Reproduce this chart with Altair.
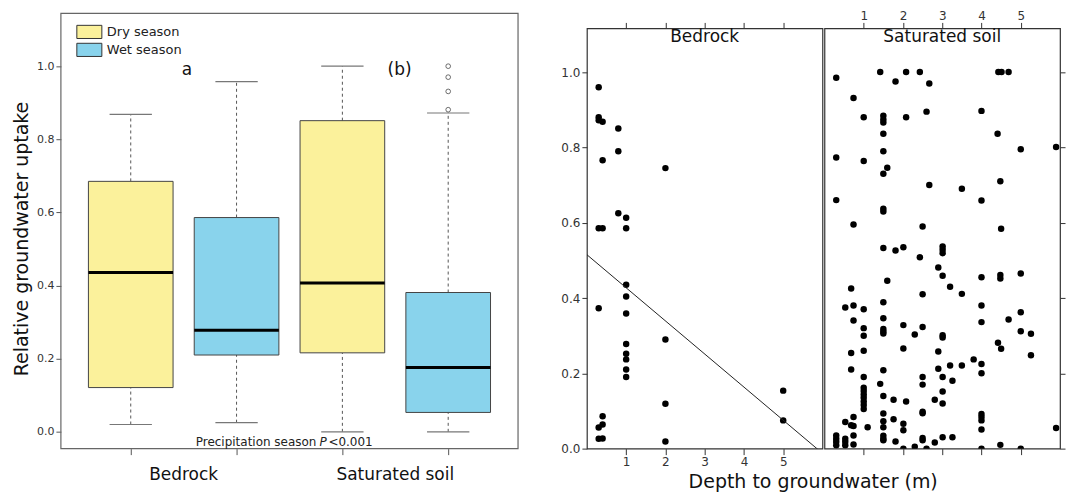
import altair as alt
import pandas as pd

# ---------------- Left panel: boxplots ----------------
box_group = ["Bedrock", "Bedrock", "Saturated soil", "Saturated soil"]
box_season = ["Dry season", "Wet season", "Dry season", "Wet season"]
box_pos = [1, 2, 3, 4]
whisk_lo = [0.020, 0.025, 0.0, 0.0]
q1 = [0.121, 0.210, 0.216, 0.053]
median = [0.436, 0.278, 0.407, 0.176]
q3 = [0.685, 0.586, 0.851, 0.381]
whisk_hi = [0.868, 0.958, 1.0, 0.872]

outlier_pos = [4, 4, 4, 4]
outlier_val = [1.0, 0.970, 0.931, 0.881]

group_label_pos = [1.5, 3.5]
group_labels = ["Bedrock", "Saturated soil"]

letter_pos = [1.53, 3.54]
letter_val = [0.99, 0.99]
letters = ["a", "(b)"]

# ---------------- Right panels: scatter ----------------
bed_x = [0.3, 0.3, 0.3, 0.4, 0.4, 0.8, 0.8, 2.0, 0.8, 1.0, 0.3, 0.4, 1.0,
         1.0, 1.0, 0.3, 1.0, 1.0, 2.0, 1.0, 1.0, 1.0, 1.0, 5.0, 5.0, 2.0,
         2.0, 0.4, 0.3, 0.4, 0.3, 0.4]
bed_y = [0.96, 0.88, 0.872, 0.868, 0.766, 0.85, 0.79, 0.745, 0.625, 0.613,
         0.585, 0.585, 0.585, 0.435, 0.404, 0.373, 0.359, 0.278, 0.29, 0.252,
         0.237, 0.21, 0.19, 0.154, 0.075, 0.119, 0.019, 0.086, 0.056, 0.064,
         0.026, 0.027]

sat_x = [0.3, 0.3, 0.3, 0.3, 0.3, 0.3, 0.3,
         1.42, 2.08, 2.08, 2.43, 2.43, 4.43, 4.51, 4.69, 1.81, 2.67, 2.67,
         0.74, 0.74, 0.74, 0.74, 0.74, 0.74, 0.74,
         1.0, 1.0, 1.0, 1.0, 1.0, 1.0, 1.0, 1.0, 1.0, 1.0, 1.0, 1.0, 1.0, 1.0,
         1.5, 1.5, 1.5, 1.5, 1.5, 1.5, 1.5, 1.5, 1.5, 1.5, 1.5, 1.5, 1.5,
         1.5, 1.5, 1.5, 1.5, 1.5, 1.5, 1.5, 1.5, 1.5,
         2.6, 2.6,
         4.0, 4.0, 4.0, 4.0, 4.0, 4.0, 4.0, 4.0, 4.0, 4.0, 4.0, 4.0,
         4.41, 5.0, 5.0, 5.0, 5.0, 5.0, 5.9, 5.9, 1.6, 1.6,
         3.5, 3.5, 3.5, 4.48, 4.48, 4.48, 4.48,
         2.5, 2.5, 2.5, 2.5, 2.5, 2.5, 2.5, 2.5, 2.5,
         4.5, 4.5, 4.42, 1.81, 1.81,
         2.01, 2.01, 2.01, 2.01, 2.01, 2.01,
         3.01, 3.01, 3.01, 3.01, 3.01, 3.01, 3.01, 3.01, 3.01, 3.01,
         2.9, 2.9, 2.9, 3.2, 3.2, 0.68, 0.68, 0.68,
         0.53, 0.53, 0.53, 0.53, 0.53, 2.3, 2.3, 4.69, 5.26, 5.26,
         1.42, 1.76, 1.76, 2.08, 2.81, 2.81, 3.26, 3.26, 3.8, 1.1, 0.68, 0.74]
sat_y = [0.985, 0.773, 0.660, 0.035, 0.026, 0.018, 0.009,
         1.0, 1.0, 0.88, 1.0, 0.508, 1.0, 1.0, 1.0, 0.975, 0.970, 0.700,
         0.931, 0.595, 0.38, 0.34, 0.084, 0.035, 0.011,
         0.880, 0.764, 0.370, 0.320, 0.300, 0.26, 0.190, 0.162, 0.153, 0.144,
         0.135, 0.125, 0.116, 0.105,
         0.884, 0.874, 0.866, 0.836, 0.79, 0.73, 0.637, 0.630, 0.533, 0.389,
         0.346, 0.318, 0.311, 0.306, 0.208, 0.140, 0.093, 0.073, 0.057, 0.034,
         0.026, 0.022,
         0.895, 0.0,
         0.897, 0.659, 0.455, 0.38, 0.336, 0.225, 0.2, 0.092, 0.084, 0.075,
         0.051, 0.0,
         0.836, 0.795, 0.465, 0.362, 0.312, 0.0, 0.801, 0.055, 0.746, 0.446,
         0.690, 0.411, 0.221, 0.710, 0.461, 0.452, 0.01,
         0.590, 0.41, 0.323, 0.190, 0.170, 0.098, 0.094, 0.028, 0.022,
         0.584, 0.265, 0.281, 0.526, 0.019,
         0.535, 0.328, 0.266, 0.066, 0.049, 0.0,
         0.537, 0.528, 0.519, 0.459, 0.301, 0.295, 0.19, 0.152, 0.12, 0.03,
         0.481, 0.258, 0.212, 0.430, 0.221, 0.425, 0.254, 0.210,
         0.375, 0.071, 0.026, 0.018, 0.009, 0.303, 0.005, 0.343, 0.305, 0.248,
         0.172, 0.130, 0.078, 0.125, 0.13, 0.016, 0.18, 0.03, 0.237, 0.057,
         0.062, 0.060]

fit_intercept = 0.515
fit_slope = -0.0879
fit_x = [0.0, 6.0]

panel_names = ["Bedrock", "Saturated soil"]

FONT = "DejaVu Sans"
DRY = "#FBF19B"
WET = "#89D3EC"

PLOT_H = 421          # shared plot-area height of all panels
LEFT_W = 458
FRAME_EXTRA = 15      # left frame reaches this far above the shared plot top

# ---------------- build left chart ----------------
bx = pd.DataFrame({
    "group": box_group, "season": box_season, "pos": box_pos,
    "lo": whisk_lo, "q1": q1, "med": median, "q3": q3, "hi": whisk_hi,
})
bx["x0"] = bx["pos"] - 0.4
bx["x1"] = bx["pos"] + 0.4
bx["c0"] = bx["pos"] - 0.2
bx["c1"] = bx["pos"] + 0.2

xs = alt.Scale(domain=[0.34, 4.66], nice=False, zero=False)
ys = alt.Scale(domain=[-0.046, 1.1033], nice=False, zero=False)

x_axis = alt.Axis(values=box_pos, labels=False, title=None, domain=False,
                  grid=False, tickSize=6, tickColor="#555")
y_axis = alt.Axis(values=[0, 0.2, 0.4, 0.6, 0.8, 1.0], format=".1f",
                  title="Relative groundwater uptake", titleFontSize=19,
                  titleFontWeight="normal", titleColor="#111", titlePadding=5,
                  labelFontSize=11, labelColor="#333", tickSize=5,
                  tickColor="#555", domain=False, grid=False, labelPadding=2)

base = alt.Chart(bx)

whisk_up = base.mark_rule(strokeDash=[3, 3], color="#555", strokeWidth=1).encode(
    x=alt.X("pos:Q", scale=xs, axis=x_axis),
    y=alt.Y("q3:Q", scale=ys, axis=y_axis), y2="hi:Q")
whisk_dn = base.mark_rule(strokeDash=[3, 3], color="#555", strokeWidth=1).encode(
    x="pos:Q", y="lo:Q", y2="q1:Q")
cap_up = base.mark_rule(color="#777", strokeWidth=1.2).encode(
    x="c0:Q", x2="c1:Q", y="hi:Q")
cap_dn = base.mark_rule(color="#777", strokeWidth=1.2).encode(
    x="c0:Q", x2="c1:Q", y="lo:Q")

legend_path = "M-1.9,-1H1.9V1H-1.9Z"
boxes = base.mark_bar(stroke="#444", strokeWidth=1, opacity=1).encode(
    x="x0:Q", x2="x1:Q", y="q1:Q", y2="q3:Q",
    color=alt.Color("season:N",
                    scale=alt.Scale(domain=["Dry season", "Wet season"],
                                    range=[DRY, WET]),
                    legend=alt.Legend(title=None, orient="none", legendX=21,
                                      legendY=-4, symbolType=legend_path,
                                      symbolSize=174, symbolStrokeColor="#333",
                                      symbolStrokeWidth=1, symbolOpacity=1,
                                      labelFontSize=13, labelColor="#222",
                                      rowPadding=-1, labelOffset=10, padding=0)))
meds = base.mark_rule(color="black", strokeWidth=3).encode(
    x="x0:Q", x2="x1:Q", y="med:Q")

outl = alt.Chart(pd.DataFrame({"pos": outlier_pos, "val": outlier_val})).mark_point(
    shape="circle", filled=False, size=22, color="black", strokeWidth=0.8
).encode(x="pos:Q", y="val:Q")

letters_t = alt.Chart(pd.DataFrame({"x": letter_pos, "y": letter_val, "t": letters})).mark_text(
    fontSize=17, color="#111", align="center", baseline="middle"
).encode(x="x:Q", y="y:Q", text="t:N")

grp_t = alt.Chart(pd.DataFrame({"x": group_label_pos, "t": group_labels})).mark_text(
    fontSize=17, color="#111", align="center", baseline="middle"
).encode(x="x:Q", y=alt.value(PLOT_H + 26), text="t:N")

pdf = pd.DataFrame({"x": [2.755, 2.783, 2.868], "y": [-0.027] * 3,
                    "t": ["Precipitation season", "P", "<0.001"]})
p1 = alt.Chart(pdf.iloc[[0]]).mark_text(fontSize=12, color="#222", align="right",
                                        baseline="middle").encode(x="x:Q", y="y:Q", text="t:N")
p2 = alt.Chart(pdf.iloc[[1]]).mark_text(fontSize=12, color="#222", align="left",
                                        baseline="middle", fontStyle="italic").encode(x="x:Q", y="y:Q", text="t:N")
p3 = alt.Chart(pdf.iloc[[2]]).mark_text(fontSize=12, color="#222", align="left",
                                        baseline="middle").encode(x="x:Q", y="y:Q", text="t:N")

# panel border (taller than the shared plot area, as in the original figure)
frame = alt.Chart(pd.DataFrame({"k": [0]})).mark_rect(
    fillOpacity=0, stroke="#666", strokeWidth=1.2).encode(
    x=alt.value(0), x2=alt.value(LEFT_W),
    y=alt.value(-FRAME_EXTRA), y2=alt.value(PLOT_H))

left = alt.layer(frame, whisk_up, whisk_dn, cap_up, cap_dn, boxes, meds, outl,
                 letters_t, grp_t, p1, p2, p3).properties(
    width=LEFT_W, height=PLOT_H,
    view=alt.ViewBackground(stroke=None, strokeWidth=0))

# ---------------- build right panels ----------------
rxs = alt.Scale(domain=[0, 6], nice=False, zero=False)
rys = alt.Scale(domain=[0, 1.116], nice=False, zero=False)
yticks = [0, 0.2, 0.4, 0.6, 0.8, 1.0]


def panel(name, px, py, left_side):
    df = pd.DataFrame({"x": px, "y": py})
    bottom_axis = alt.Axis(orient="bottom", values=[1, 2, 3, 4, 5], labels=left_side,
                           title=None, domain=False, grid=False, tickSize=6,
                           tickColor="#333", labelFontSize=12, labelColor="#333",
                           labelPadding=2)
    top_axis = alt.Axis(orient="top", values=[1, 2, 3, 4, 5], labels=not left_side,
                        title=None, domain=False, grid=False, tickSize=6,
                        tickColor="#333", labelFontSize=12, labelColor="#333",
                        labelPadding=0)
    yax = alt.Axis(orient="left" if left_side else "right", values=yticks,
                   format=".1f", labels=left_side, title=None, domain=False,
                   grid=False, tickSize=5, tickColor="#333", labelFontSize=12,
                   labelColor="#333", labelPadding=2)
    pts = alt.Chart(df).mark_circle(size=42, color="black", opacity=1, clip=True).encode(
        x=alt.X("x:Q", scale=rxs, axis=bottom_axis),
        y=alt.Y("y:Q", scale=rys, axis=yax))
    strip = alt.Chart(pd.DataFrame({"x": [3.0], "t": [name]})).mark_text(
        fontSize=17, color="#111", align="center", baseline="middle").encode(
        x=alt.X("x:Q", scale=rxs, axis=top_axis), y=alt.value(9), text="t:N")
    layers = [pts]
    if left_side:
        fdf = pd.DataFrame({"x": fit_x})
        fdf["y"] = fit_intercept + fit_slope * fdf["x"]
        line = alt.Chart(fdf).mark_line(color="#222", strokeWidth=1, clip=True).encode(
            x=alt.X("x:Q", axis=None), y=alt.Y("y:Q", axis=yax))
        layers.append(line)
    layers.append(strip)
    return alt.layer(*layers).resolve_axis(x="independent").properties(
        width=236, height=PLOT_H,
        view=alt.ViewBackground(stroke="#333", strokeWidth=1.2))


bed = panel(panel_names[0], bed_x, bed_y, True)
sat = panel(panel_names[1], sat_x, sat_y, False)

right = alt.hconcat(bed, sat, spacing=0).properties(
    title=alt.TitleParams("Depth to groundwater (m)", orient="bottom",
                          anchor="middle", fontSize=19, fontWeight="normal",
                          color="#111", offset=5))

chart = alt.hconcat(left, right, spacing=41).properties(
    padding={"left": 4, "top": 0, "right": 0, "bottom": 0}
).configure(font=FONT).configure_view(stroke="#333")

chart.save("out.html", embed_options={"renderer": "svg", "actions": False})
